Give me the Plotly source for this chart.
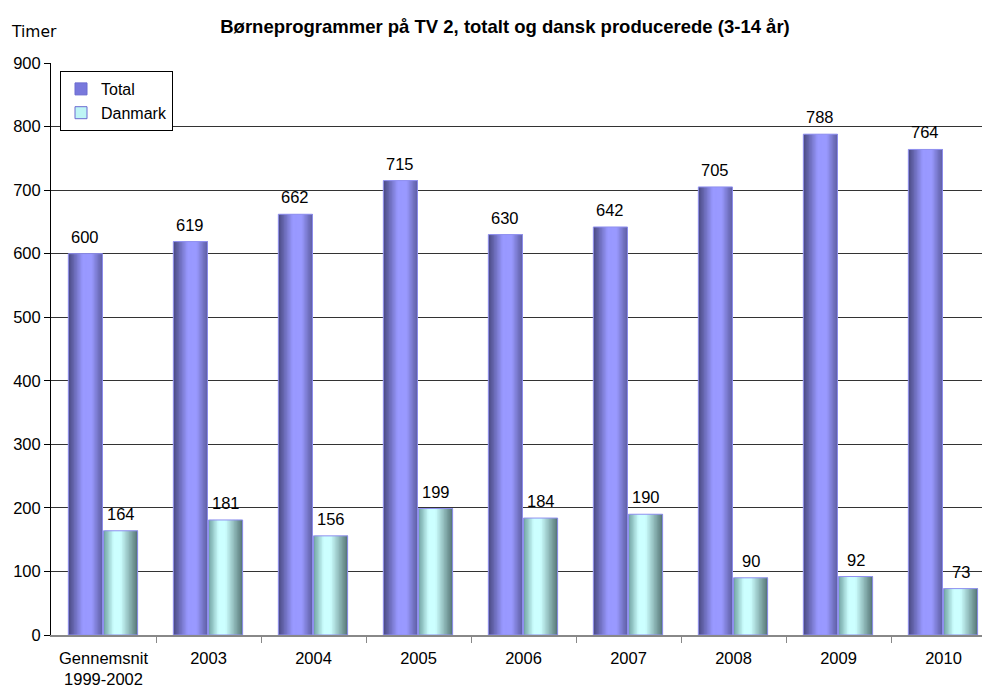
import numpy as np
import plotly.graph_objects as go

categories = ["Gennemsnit<br>1999-2002", "2003", "2004", "2005", "2006", "2007", "2008", "2009", "2010"]
total = [600, 619, 662, 715, 630, 642, 705, 788, 764]
danmark = [164, 181, 156, 199, 184, 190, 90, 92, 73]
y_ticks = [0, 100, 200, 300, 400, 500, 600, 700, 800, 900]

x = np.arange(len(categories))
FONT = "Arial, Liberation Sans, sans-serif"
FS = 16.5

# layout geometry (figure pixels)
ML, MT, MB, MR = 43, 55, 61, 0
FW, FH = 990, 688
PW, PH = FW - ML - MR, FH - MT - MB
CAT = 105.0


def lerp(c1, c2, t):
    return "rgb(%d,%d,%d)" % tuple(round(a + (b - a) * t) for a, b in zip(c1, c2))


def ramp(stops, t):
    for (t0, c0), (t1, c1) in zip(stops, stops[1:]):
        if t <= t1:
            return lerp(c0, c1, (t - t0) / (t1 - t0) if t1 > t0 else 0)
    return lerp(stops[-1][1], stops[-1][1], 0)


TOTAL_STOPS = [(0.0, (72, 72, 128)), (0.42, (153, 153, 255)), (0.68, (153, 153, 255)), (1.0, (92, 92, 160))]
DK_STOPS = [(0.0, (110, 160, 160)), (0.3, (204, 255, 255)), (0.5, (204, 255, 255)), (1.0, (84, 116, 116))]

W = 0.325
N = 24
fig = go.Figure()
annotations = []

for name, vals, off, stops, legc in [
    ("Total", total, -0.335, TOTAL_STOPS, "rgb(120,120,220)"),
    ("Danmark", danmark, 0.0, DK_STOPS, "rgb(190,245,245)"),
]:
    sw = W / N
    for i in range(N):
        t = (i + 0.5) / N
        wi = sw * 2 if i < N - 1 else sw
        fig.add_trace(go.Bar(
            x=x, y=vals, offset=off + i * sw, width=wi,
            marker=dict(color=ramp(stops, t), line=dict(width=0)),
            showlegend=False, hoverinfo="skip", legendgroup=name,
        ))
    fig.add_trace(go.Bar(
        x=x, y=vals, offset=off, width=W, name=name,
        marker=dict(color="rgba(0,0,0,0)", line=dict(color="#9090f0", width=1)),
        showlegend=False, legendgroup=name,
    ))
    fig.add_trace(go.Bar(
        x=[None], y=[None], name=name,
        marker=dict(color=legc, line=dict(color="#6b6bd0", width=1)),
        showlegend=True, legendgroup=name,
    ))
    for xi, v in zip(x, vals):
        annotations.append(dict(
            x=xi + off + W / 2, y=v, xref="x", yref="y", text=str(v),
            showarrow=False, yanchor="middle", yshift=17,
            font=dict(family=FONT, size=FS, color="#000"),
        ))

annotations.append(dict(
    text="Timer", x=(1 - ML) / PW, y=1 + (MT - 24) / PH, xref="paper", yref="paper",
    xanchor="left", yanchor="middle", showarrow=False,
    font=dict(family="DejaVu Sans", size=15.5, color="#000"),
))

fig.update_layout(
    width=FW, height=FH,
    margin=dict(l=ML, r=MR, t=MT, b=MB),
    barmode="overlay",
    plot_bgcolor="white", paper_bgcolor="white",
    font=dict(family=FONT, size=FS, color="#000"),
    title=dict(
        text="<b>Børneprogrammer på TV 2, totalt og dansk producerede (3-14 år)</b>",
        x=497 / FW, xanchor="center", y=1 - 19 / FH, yanchor="middle",
        font=dict(family=FONT, size=18.5, color="#000"),
    ),
    legend=dict(
        x=(60 - 51) / PW, y=1 - (71 - 63) / PH, xanchor="left", yanchor="top",
        bordercolor="#000", borderwidth=1, bgcolor="white",
        font=dict(family=FONT, size=16), traceorder="normal",
        itemwidth=30, tracegroupgap=0,
    ),
    xaxis=dict(
        range=[-0.5, -0.5 + PW / CAT], tickvals=list(x), ticktext=categories,
        ticks="", showline=True, linecolor="#888", linewidth=2,
        showgrid=False, zeroline=False, fixedrange=True,
        ticklabelstandoff=7,
        tickfont=dict(family=FONT, size=FS, color="#000"),
        minor=dict(tickvals=[i + 0.5 for i in range(9)], ticks="outside",
                   ticklen=6, tickcolor="#888", tickwidth=1, showgrid=False),
    ),
    yaxis=dict(
        range=[0, 900], tickvals=y_ticks, ticks="outside", ticklen=6,
        tickcolor="#000", showline=True, linecolor="#000", linewidth=1,
        showgrid=True, gridcolor="#333", gridwidth=1, zeroline=False,
        tickfont=dict(family=FONT, size=FS, color="#000"),
    ),
    annotations=annotations,
)

fig.write_html("out.html")
